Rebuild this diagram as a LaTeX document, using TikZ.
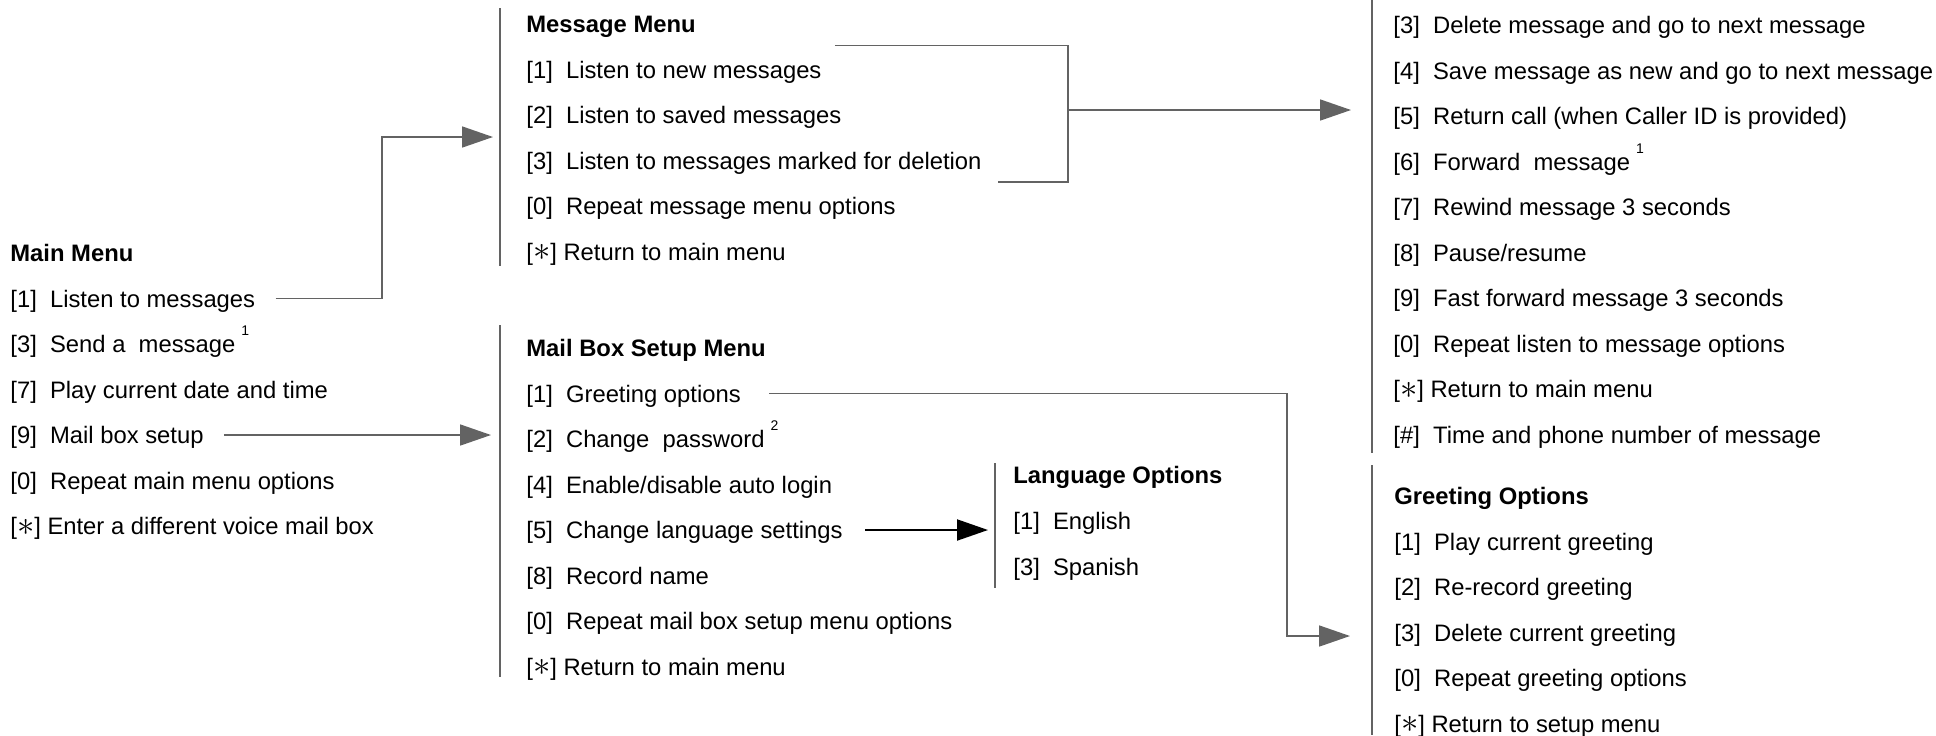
\documentclass[tikz,border=0pt]{standalone}
\usepackage{fontspec}
\setmainfont{Liberation Sans}
\definecolor{ivrGray}{HTML}{636363}
\usetikzlibrary{arrows.meta}
\newcommand{\kk}[1]{[#1]\ \ }
\newcommand{\ks}{[\raisebox{-0.3pt}{\fontsize{18}{18}\selectfont$\ast$}]\ }
\newcommand{\fn}[1]{\hspace{3pt}\raisebox{8.5pt}{\fontsize{7}{7}\selectfont #1}}

\begin{document}
\begin{tikzpicture}[x=0.5pt,y=-0.5pt,
  item/.style={anchor=west, inner sep=0pt, text height=8.5pt, text depth=0pt, font=\fontsize{11.9}{14}\selectfont},
  head/.style={item, font=\fontsize{11.9}{14}\selectfont\bfseries},
  bar/.style={ivrGray, line width=1pt},
  link/.style={ivrGray, line width=0.85pt},
  tip/.style={-{Triangle[length=15.5pt,width=10.5pt]}}]
  \useasboundingbox (0,0) rectangle (1936,735);

  % Main menu
  \node[head] (mainTitle) at (10,253) {Main Menu};
  \foreach \t [count=\i] in {{\kk{1}Listen to messages},{\kk{3}Send a\ \ message\fn{1}},
      {\kk{7}Play current date and time},{\kk{9}Mail box setup},
      {\kk{0}Repeat main menu options},{\ks Enter a different voice mail box}}
    \node[item] (main\i) at (10,{253+45.5*\i}) {\t};

  % Message menu
  \draw[bar] (500,8) -- (500,266);
  \node[head] (msgTitle) at (526,24) {Message Menu};
  \foreach \t [count=\i] in {{\kk{1}Listen to new messages},{\kk{2}Listen to saved messages},
      {\kk{3}Listen to messages marked for deletion},{\kk{0}Repeat message menu options},
      {\ks Return to main menu}}
    \node[item] (msg\i) at (526,{24+45.5*\i}) {\t};

  % Listen to message options (top of list cut off)
  \draw[bar] (1372,0) -- (1372,453);
  \foreach \t [count=\i] in {{\kk{3}Delete message and go to next message},
      {\kk{4}Save message as new and go to next message},
      {\kk{5}Return call (when Caller ID is provided)},{\kk{6}Forward\ \ message\fn{1}},
      {\kk{7}Rewind message 3 seconds},{\kk{8}Pause/resume},
      {\kk{9}Fast forward message 3 seconds},{\kk{0}Repeat listen to message options},
      {\ks Return to main menu},{\kk{\#}Time and phone number of message}}
    \node[item] (lst\i) at (1393,{-20.5+45.5*\i}) {\t};

  % Mail box setup menu
  \draw[bar] (500,325) -- (500,677);
  \node[head] (setTitle) at (526,348) {Mail Box Setup Menu};
  \foreach \t [count=\i] in {{\kk{1}Greeting options},{\kk{2}Change\ \ password\fn{2}},
      {\kk{4}Enable/disable auto login},{\kk{5}Change language settings},
      {\kk{8}Record name},{\kk{0}Repeat mail box setup menu options},
      {\ks Return to main menu}}
    \node[item] (set\i) at (526,{348+45.5*\i}) {\t};

  % Language options
  \draw[bar] (995,463) -- (995,588);
  \node[head] (langTitle) at (1013,475) {Language Options};
  \node[item] (lang1) at (1013,521) {\kk{1}English};
  \node[item] (lang2) at (1013,567) {\kk{3}Spanish};

  % Greeting options
  \draw[bar] (1372,465) -- (1372,735);
  \node[head] (grtTitle) at (1394,496) {Greeting Options};
  \foreach \t [count=\i] in {{\kk{1}Play current greeting},{\kk{2}Re-record greeting},
      {\kk{3}Delete current greeting},{\kk{0}Repeat greeting options},
      {\ks Return to setup menu}}
    \node[item] (grt\i) at (1394,{496+45.5*\i}) {\t};

  % Arrow ends
  \coordinate (msgIn) at (493,137);
  \coordinate (setIn) at (491,435);
  \coordinate (brk) at (1068,110);
  \coordinate (lstIn) at (1351,110);
  \coordinate (grtIn) at (1350,636);
  \coordinate (langIn) at (988,530);

  % Connectors
  \draw[link,tip] ([xshift=10pt]main1.east) -| ([xshift=-55.5pt]msgIn) -- (msgIn);
  \draw[link,tip] ([xshift=10pt]main4.east) -- (setIn);
  \draw[link] ([xshift=6.5pt,yshift=12pt]msg1.east) -| (brk) |- ([xshift=8pt,yshift=-10.75pt]msg3.east);
  \draw[link,tip] (brk) -- (lstIn);
  \draw[link,tip] ([xshift=14pt]set1.east) -| ([xshift=-31.5pt]grtIn) -- (grtIn);
  \draw[line width=1pt,tip] ([xshift=11pt]set4.east) -- (langIn);
\end{tikzpicture}
\end{document}
